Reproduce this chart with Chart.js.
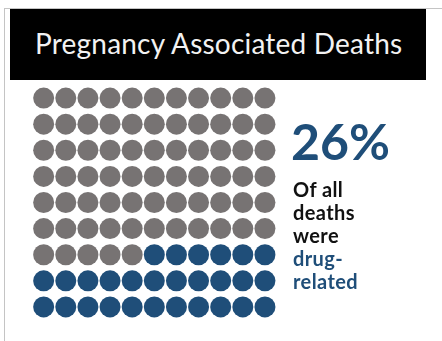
<!DOCTYPE html>
<html>
<head>
<meta charset="utf-8">
<script src="https://cdn.jsdelivr.net/npm/chart.js@4/dist/chart.umd.min.js"></script>
<style>
  html, body { margin: 0; padding: 0; background: #ffffff; }
  #wrap { position: relative; width: 442px; height: 341px; overflow: hidden; }
  #frame { position: absolute; left: 4px; top: 8px; width: 440px; height: 340px;
           border-left: 1px solid #c4c4c4; border-top: 1px solid #c4c4c4; }
  #banner { position: absolute; left: 10px; top: 9px; width: 416px; height: 71px; background: #000; }
  #banner span { position: absolute; left: 25px; top: 17px; color: #f2f2f2;
                 font-family: "Lato", sans-serif; font-weight: 400; font-size: 28px;
                 letter-spacing: 0.2px; white-space: nowrap; }
  #chart { position: absolute; left: 0; top: 0; }
  #pct { position: absolute; left: 291px; top: 116px; color: #1f4e79;
         font-family: "Lato", sans-serif; font-weight: 700; font-size: 50px; line-height: 50px; }
  #note { position: absolute; left: 293px; top: 178px; font-family: "Lato", sans-serif;
          font-weight: 700; font-size: 20px; line-height: 23px; color: #111; letter-spacing: 0.4px; }
  #note .hl { color: #1f4e79; }
</style>
</head>
<body>
<div id="wrap">
  <div id="frame"></div>
  <div id="banner"><span>Pregnancy Associated Deaths</span></div>
  <canvas id="chart" width="442" height="341"></canvas>
  <div id="pct">26%</div>
  <div id="note">Of all<br>deaths<br>were<br><span class="hl">drug-<br>related</span></div>
</div>
<script>
// Dots per row of the waffle (11 columns, 9 rows), top row first
const rowIndex = [0, 1, 2, 3, 4, 5, 6, 7, 8];
const otherPerRow = [11, 11, 11, 11, 11, 11, 5, 0, 0];
const drugPerRow = [0, 0, 0, 0, 0, 0, 6, 11, 11];
const seriesNames = ['Other deaths', 'Drug-related deaths'];
const seriesColors = ['#777373', '#1f4e79'];

// Lay out the dots row by row: grey first, then blue
function buildPoints() {
  const other = [], drug = [];
  rowIndex.forEach((r, i) => {
    let c = 0;
    for (let k = 0; k < otherPerRow[i]; k++) other.push({ x: c++, y: r });
    for (let k = 0; k < drugPerRow[i]; k++) drug.push({ x: c++, y: r });
  });
  return [other, drug];
}
const [otherPts, drugPts] = buildPoints();

new Chart(document.getElementById('chart'), {
  type: 'scatter',
  data: {
    datasets: [
      { label: seriesNames[0], data: otherPts, backgroundColor: seriesColors[0],
        pointRadius: 10.5, pointHoverRadius: 10.5, borderWidth: 0 },
      { label: seriesNames[1], data: drugPts, backgroundColor: seriesColors[1],
        pointRadius: 10.5, pointHoverRadius: 10.5, borderWidth: 0 }
    ]
  },
  options: {
    responsive: false,
    animation: false,
    layout: { padding: { left: 32.6, right: 166, top: 85, bottom: 21 } },
    plugins: { legend: { display: false }, tooltip: { enabled: false }, title: { display: false } },
    scales: {
      x: { type: 'linear', min: -0.5, max: 10.5, display: false },
      y: { type: 'linear', min: -0.5, max: 8.5, reverse: true, display: false }
    }
  }
});
</script>
</body>
</html>
